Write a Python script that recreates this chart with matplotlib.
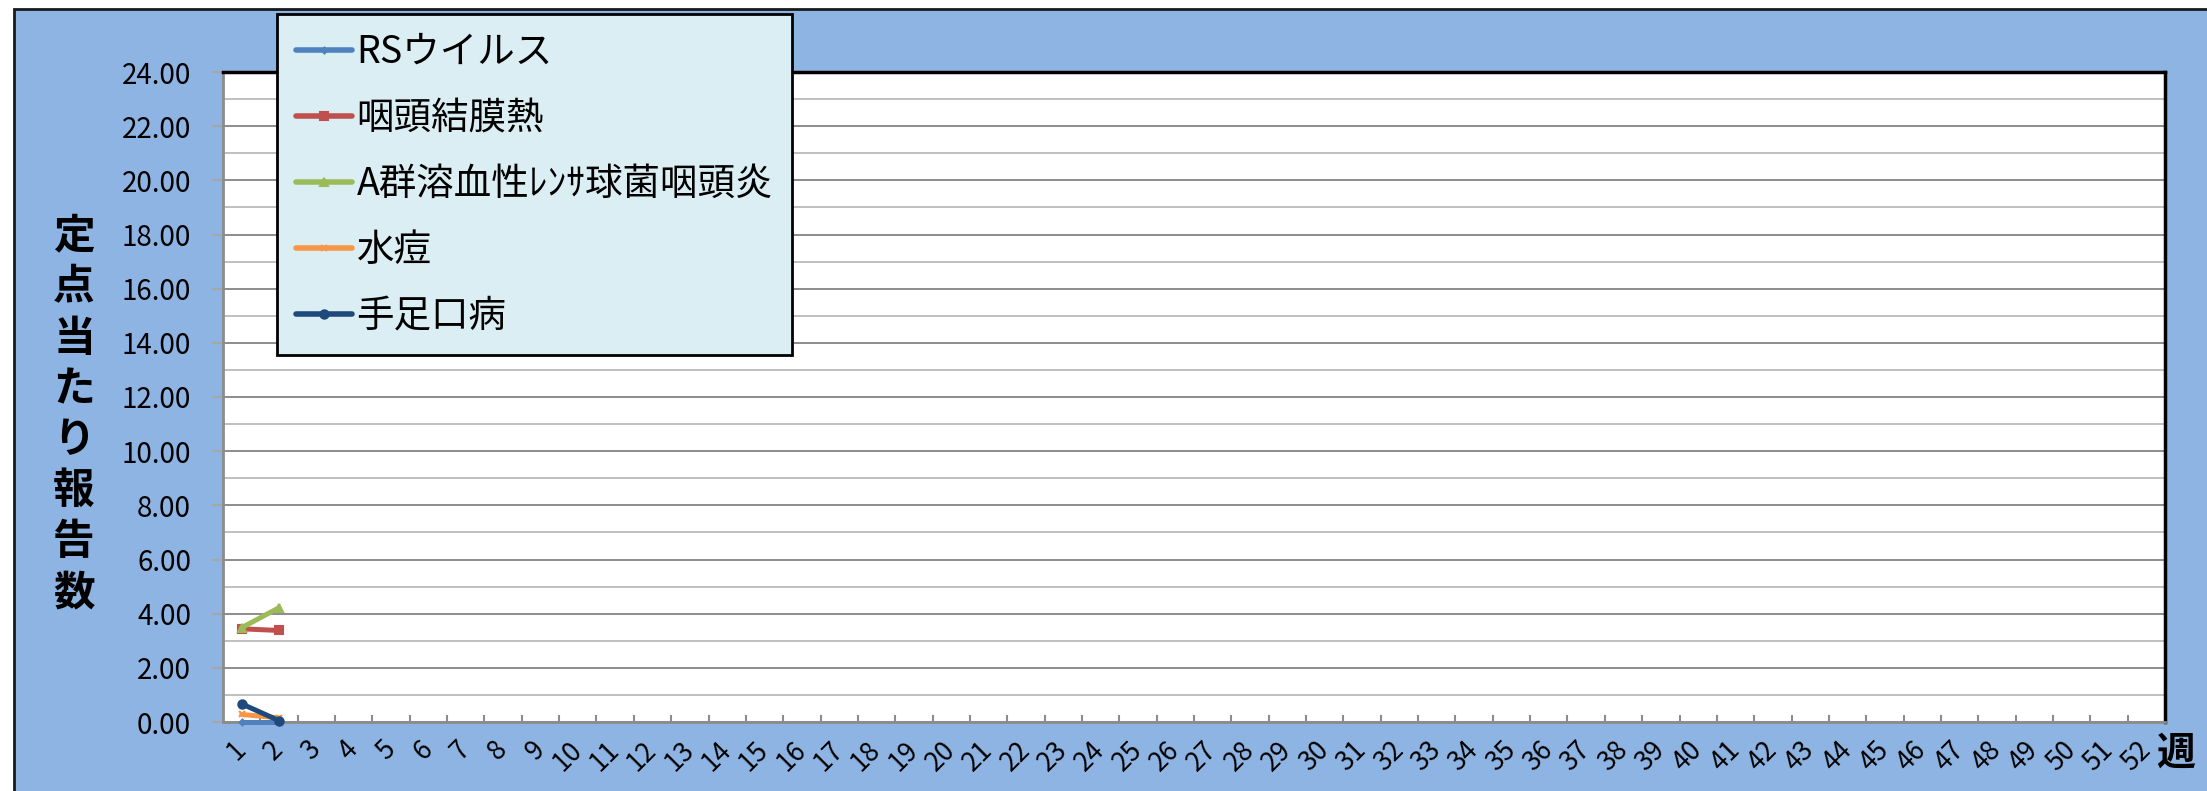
import matplotlib
matplotlib.use("Agg")
import matplotlib.pyplot as plt
from matplotlib.patches import Rectangle
from matplotlib.ticker import MultipleLocator, FuncFormatter

plt.rcParams['font.family'] = ['Noto Sans CJK JP', 'DejaVu Sans']

# data: weekly reports per sentinel site (only weeks 1-2 reported)
weeks = list(range(1, 53))
week_labels = [str(w) for w in weeks]
series_names = ['RSウイルス', '咽頭結膜熱', 'A群溶血性ﾚﾝｻ球菌咽頭炎', '水痘', '手足口病']
rs_virus = [0.00, 0.00]
pharyngoconj = [3.44, 3.38]
strep_a = [3.48, 4.22]
varicella = [0.28, 0.15]
hfmd = [0.67, 0.05]
series_values = [rs_virus, pharyngoconj, strep_a, varicella, hfmd]

colors = ['#4F81BD', '#C0504D', '#9BBB59', '#F79646', '#1F497D']
markers = ['D', 's', '^', 'x', 'o']
msizes = [3, 6, 6, 4, 6]

W, H = 2207, 791
fig = plt.figure(figsize=(W / 100, H / 100), dpi=100, facecolor='white')

# blue chart background with dark border on left/top
bg = Rectangle((14 / W, -0.05), 1.1, 1 - 9 / H + 0.05, transform=fig.transFigure,
               facecolor='#8EB4E3', edgecolor='#1a1a1a', linewidth=2, zorder=-10)
fig.patches.append(bg)

ax = fig.add_axes([223 / W, 69 / H, 1942 / W, 650 / H])
ax.set_facecolor('white')

for name, vals, c, m, ms in zip(series_names, series_values, colors, markers, msizes):
    ax.plot(weeks[:len(vals)], vals, color=c, lw=3.6, marker=m, ms=ms,
            mec=c, mfc=c, mew=1.5, label=name, solid_capstyle='round', zorder=3,
            clip_on=False)

ax.set_xlim(0.5, 52.5)
ax.set_ylim(0, 24)
ax.yaxis.set_major_locator(MultipleLocator(2))
ax.yaxis.set_minor_locator(MultipleLocator(1))
ax.yaxis.set_major_formatter(FuncFormatter(lambda v, p: f'{v:.2f}'))
ax.grid(which='major', axis='y', color='#8C8C8C', lw=1.4, zorder=1)
ax.grid(which='minor', axis='y', color='#BFBFBF', lw=1.4, zorder=1)
ax.set_axisbelow(True)

ax.set_xticks(weeks)
ax.set_xticklabels(week_labels, rotation=45, ha='right', va='center',
                   rotation_mode='anchor', fontsize=19)
ax.set_xticks([w + 0.5 for w in weeks[:-1]], minor=True)
ax.tick_params(axis='x', which='major', length=0, pad=17)
ax.tick_params(axis='x', which='minor', direction='in', length=5, color='#8C8C8C', width=1.5)
ax.tick_params(axis='y', which='major', direction='out', length=8, color='#A6A6A6',
               width=1.5, labelsize=20, pad=15)
ax.tick_params(axis='y', which='minor', length=0)

for s in ['left', 'bottom']:
    ax.spines[s].set_color('#8C8C8C')
    ax.spines[s].set_linewidth(2)
for s in ['top', 'right']:
    ax.spines[s].set_color('black')
    ax.spines[s].set_linewidth(2.5)

fig.text(74 / W, 1 - 415 / H, '\n'.join('定点当たり報告数'), ha='center', va='center',
         fontsize=30, fontweight='bold', linespacing=1.27)
fig.text(2176 / W, 1 - 753 / H, '週', ha='center', va='center', fontsize=28,
         fontweight='bold')

leg = fig.legend(loc='upper left', bbox_to_anchor=(277 / W, 1 - 14 / H),
                 bbox_transform=fig.transFigure, fontsize=27, frameon=True,
                 fancybox=False, handlelength=1.5, handletextpad=0.12,
                 labelspacing=0.72, borderpad=0.5, borderaxespad=0)
leg.get_frame().set_facecolor('#DBEEF4')
leg.get_frame().set_edgecolor('black')
leg.get_frame().set_linewidth(2)
leg.get_frame().set_alpha(1)
for ln in leg.get_lines():
    ln.set_linewidth(4)

fig.savefig('out.png', dpi=100, facecolor='white')
